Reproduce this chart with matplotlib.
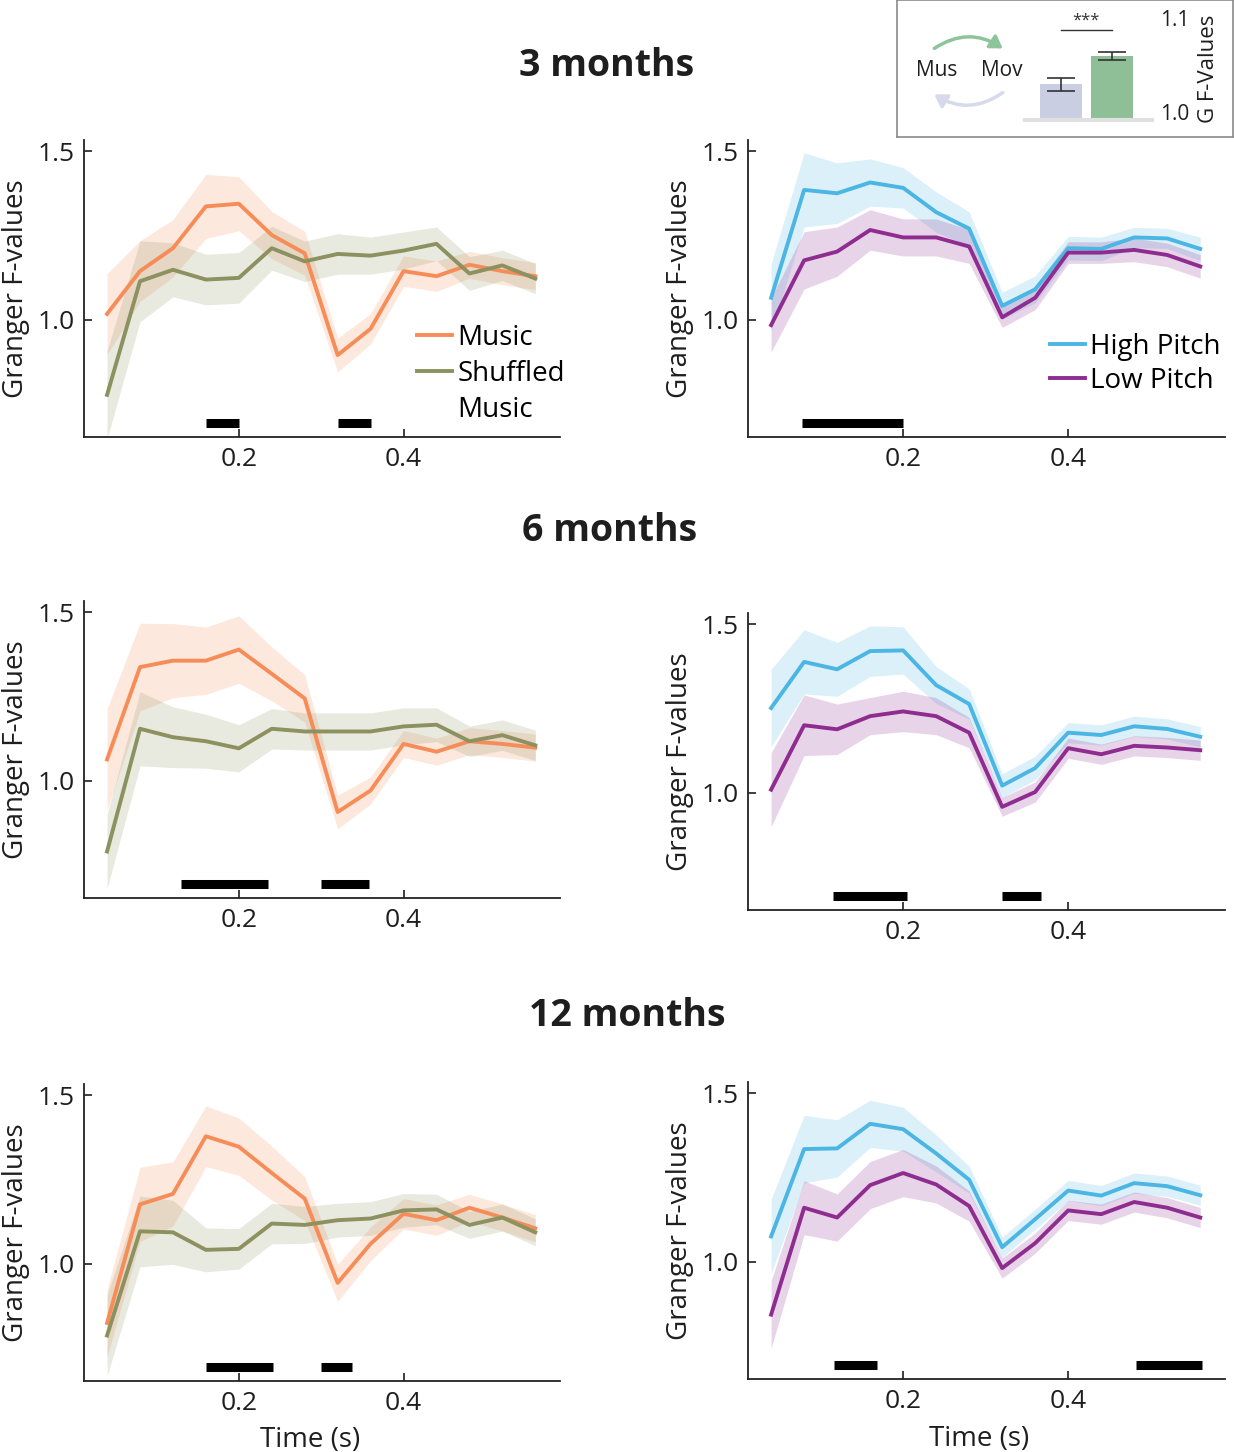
import numpy as np
import matplotlib
matplotlib.use('Agg')
import matplotlib.pyplot as plt
from matplotlib.patches import FancyArrowPatch
from matplotlib.lines import Line2D

plt.rcParams['font.family'] = ['Open Sans', 'DejaVu Sans']

# time points (s)
t = [0.04, 0.08, 0.12, 0.16, 0.20, 0.24, 0.28, 0.32, 0.36, 0.40, 0.44, 0.48, 0.52, 0.56]

# music vs shuffled, mean and band half-width
music_3m = [1.017, 1.144, 1.212, 1.336, 1.344, 1.251, 1.197, 0.895, 0.973, 1.144, 1.129, 1.163, 1.144, 1.129]
music_3m_err = [0.12, 0.09, 0.085, 0.095, 0.08, 0.07, 0.065, 0.05, 0.045, 0.045, 0.045, 0.04, 0.04, 0.04]
shuf_3m = [0.777, 1.114, 1.148, 1.119, 1.124, 1.212, 1.173, 1.195, 1.19, 1.205, 1.225, 1.137, 1.161, 1.122]
shuf_3m_err = [0.13, 0.12, 0.08, 0.075, 0.075, 0.065, 0.06, 0.06, 0.055, 0.055, 0.05, 0.05, 0.045, 0.045]

music_6m = [1.063, 1.337, 1.356, 1.356, 1.389, 1.317, 1.244, 0.907, 0.971, 1.109, 1.086, 1.117, 1.109, 1.098]
music_6m_err = [0.15, 0.13, 0.11, 0.1, 0.1, 0.08, 0.07, 0.05, 0.04, 0.04, 0.04, 0.04, 0.04, 0.04]
shuf_6m = [0.79, 1.154, 1.129, 1.117, 1.096, 1.154, 1.146, 1.146, 1.146, 1.161, 1.166, 1.117, 1.135, 1.105]
shuf_6m_err = [0.11, 0.11, 0.09, 0.08, 0.07, 0.06, 0.055, 0.055, 0.055, 0.055, 0.05, 0.045, 0.045, 0.045]

music_12m = [0.824, 1.176, 1.207, 1.378, 1.347, 1.269, 1.193, 0.943, 1.059, 1.148, 1.129, 1.166, 1.137, 1.105]
music_12m_err = [0.1, 0.11, 0.095, 0.09, 0.085, 0.08, 0.065, 0.055, 0.05, 0.045, 0.045, 0.04, 0.04, 0.04]
shuf_12m = [0.787, 1.096, 1.093, 1.041, 1.044, 1.119, 1.115, 1.129, 1.134, 1.158, 1.161, 1.115, 1.137, 1.093]
shuf_12m_err = [0.12, 0.105, 0.095, 0.065, 0.06, 0.06, 0.055, 0.05, 0.05, 0.05, 0.045, 0.04, 0.04, 0.04]

# high vs low pitch
high_3m = [1.065, 1.385, 1.375, 1.407, 1.391, 1.319, 1.27, 1.041, 1.09, 1.212, 1.21, 1.244, 1.241, 1.21]
high_3m_err = [0.1, 0.11, 0.09, 0.07, 0.06, 0.06, 0.05, 0.04, 0.04, 0.035, 0.035, 0.03, 0.03, 0.035]
low_3m = [0.984, 1.176, 1.202, 1.266, 1.244, 1.244, 1.217, 1.007, 1.065, 1.199, 1.199, 1.207, 1.192, 1.158]
low_3m_err = [0.08, 0.085, 0.073, 0.06, 0.055, 0.055, 0.05, 0.03, 0.035, 0.032, 0.032, 0.035, 0.035, 0.035]

high_6m = [1.251, 1.388, 1.366, 1.42, 1.422, 1.319, 1.263, 1.021, 1.073, 1.178, 1.171, 1.197, 1.189, 1.166]
high_6m_err = [0.115, 0.095, 0.08, 0.075, 0.07, 0.055, 0.045, 0.035, 0.035, 0.03, 0.03, 0.03, 0.03, 0.03]
low_6m = [1.009, 1.2, 1.188, 1.227, 1.241, 1.227, 1.178, 0.958, 1.002, 1.132, 1.114, 1.139, 1.134, 1.126]
low_6m_err = [0.11, 0.09, 0.075, 0.055, 0.06, 0.055, 0.045, 0.028, 0.03, 0.03, 0.03, 0.03, 0.03, 0.03]

high_12m = [1.075, 1.334, 1.336, 1.409, 1.393, 1.321, 1.243, 1.043, 1.126, 1.211, 1.196, 1.233, 1.224, 1.197]
high_12m_err = [0.11, 0.1, 0.085, 0.07, 0.065, 0.055, 0.04, 0.03, 0.03, 0.03, 0.03, 0.03, 0.03, 0.03]
low_12m = [0.843, 1.16, 1.131, 1.227, 1.263, 1.229, 1.165, 0.981, 1.055, 1.152, 1.141, 1.177, 1.16, 1.131]
low_12m_err = [0.1, 0.08, 0.07, 0.07, 0.07, 0.055, 0.045, 0.03, 0.03, 0.03, 0.03, 0.03, 0.03, 0.03]

# significant windows (start, end) in s
sig_music = [[(0.16, 0.20), (0.32, 0.36)],
             [(0.13, 0.236), (0.30, 0.358)],
             [(0.16, 0.242), (0.30, 0.338)]]
sig_pitch = [[(0.077, 0.20)],
             [(0.115, 0.205), (0.32, 0.367)],
             [(0.116, 0.168), (0.482, 0.562)]]

ages = ['3 months', '6 months', '12 months']

# inset: Mus->Mov vs Mov->Mus
inset_vals = [1.035, 1.063]
inset_err = [0.0065, 0.004]

c_music = '#F68D58'
c_shuf = '#8C9160'
c_high = '#4BB5E3'
c_low = '#8E2C90'
txt = '#1E1E1E'

fig = plt.figure(figsize=(12.34, 14.52), dpi=100)

W, H = 1234, 1452
# panel boxes in pixels: left, y of x-axis, right
left_boxes = [(84, 437, 560), (84, 898, 560), (84, 1381, 560)]
right_boxes = [(748, 437, 1225), (748, 910, 1225), (748, 1379, 1225)]
ax_h = 297

def make_ax(box):
    x0, yb, x1 = box
    return fig.add_axes([x0 / W, 1 - yb / H, (x1 - x0) / W, ax_h / H])

def style(ax):
    ax.set_xlim(0.012, 0.59)
    ax.set_ylim(0.652, 1.533)
    ax.set_xticks([0.2, 0.4])
    ax.set_yticks([1.0, 1.5])
    ax.set_xticklabels(['0.2', '0.4'])
    ax.set_yticklabels(['1.0', '1.5'])
    for s in ['top', 'right']:
        ax.spines[s].set_visible(False)
    for s in ['left', 'bottom']:
        ax.spines[s].set_linewidth(1.3)
        ax.spines[s].set_color('#222222')
    ax.tick_params(direction='in', length=6, width=1.2, labelsize=19, colors=txt, pad=7)
    ax.set_ylabel('Granger F-values', fontsize=20, color=txt, labelpad=5)

def draw(ax, m, e, c, label):
    m = np.array(m)
    e = np.array(e)
    ax.fill_between(t, m - e, m + e, color=c, alpha=0.2, linewidth=0)
    ax.plot(t, m, color=c, linewidth=2.8, label=label)

music_sets = [(music_3m, music_3m_err, shuf_3m, shuf_3m_err),
              (music_6m, music_6m_err, shuf_6m, shuf_6m_err),
              (music_12m, music_12m_err, shuf_12m, shuf_12m_err)]
pitch_sets = [(high_3m, high_3m_err, low_3m, low_3m_err),
              (high_6m, high_6m_err, low_6m, low_6m_err),
              (high_12m, high_12m_err, low_12m, low_12m_err)]

leg_kw = dict(frameon=False, fontsize=20, handlelength=1.25, handletextpad=0.2,
              borderpad=0, borderaxespad=0)

for i in range(3):
    ax = make_ax(left_boxes[i])
    mm, me, sm, se = music_sets[i]
    draw(ax, mm, me, c_music, 'Music')
    draw(ax, sm, se, c_shuf, 'Shuffled')
    for a, b in sig_music[i]:
        ax.hlines(0.695, a, b, color='black', linewidth=6.5)
    style(ax)
    if i == 0:
        h, l = ax.get_legend_handles_labels()
        h.append(Line2D([], [], color='none'))
        l.append('Music')
        ax.legend(h, l, loc='upper left', bbox_to_anchor=(0.70, 0.38), labelspacing=0.28, **leg_kw)
    if i == 2:
        ax.set_xlabel('Time (s)', fontsize=20, color=txt, va='top')
        ax.xaxis.set_label_coords(0.475, -0.15)

    ax = make_ax(right_boxes[i])
    hm, he, lm, le = pitch_sets[i]
    draw(ax, hm, he, c_high, 'High Pitch')
    draw(ax, lm, le, c_low, 'Low Pitch')
    for a, b in sig_pitch[i]:
        ax.hlines(0.695, a, b, color='black', linewidth=6.5)
    style(ax)
    if i == 0:
        ax.legend(loc='upper left', bbox_to_anchor=(0.633, 0.35), labelspacing=0.2, **leg_kw)
    if i == 2:
        ax.set_xlabel('Time (s)', fontsize=20, color=txt, va='top')
        ax.xaxis.set_label_coords(0.484, -0.155)

# row titles
fig.text(607 / W, 1 - 66 / H, ages[0], ha='center', va='center', fontsize=27, fontweight='bold', color=txt)
fig.text(610 / W, 1 - 531 / H, ages[1], ha='center', va='center', fontsize=27, fontweight='bold', color=txt)
fig.text(627 / W, 1 - 1016 / H, ages[2], ha='center', va='center', fontsize=27, fontweight='bold', color=txt)

# inset box
box = fig.add_axes([897 / W, 1 - 137 / H, 336 / W, 137 / H])
box.set_xlim(0, 336)
box.set_ylim(137, 0)
box.set_xticks([])
box.set_yticks([])
for s in box.spines.values():
    s.set_color('#8A8A8A')
    s.set_linewidth(1.2)
box.text(40, 71, 'Mus', ha='center', va='center', fontsize=15, color=txt)
box.text(105, 71, 'Mov', ha='center', va='center', fontsize=15, color=txt)
box.add_patch(FancyArrowPatch((35, 50), (108, 50), connectionstyle='arc3,rad=-0.35',
                              arrowstyle='-|>,head_length=7,head_width=4.5', color='#8DC49B', linewidth=2.5))
box.add_patch(FancyArrowPatch((108, 91), (35, 93), connectionstyle='arc3,rad=-0.35',
                              arrowstyle='-|>,head_length=7,head_width=4.5', color='#D6DAEC', linewidth=2.5))

bx = fig.add_axes([1025 / W, 1 - 120 / H, 127 / W, 102 / H])
bx.bar([0, 1], np.array(inset_vals) - 1.0, bottom=1.0, width=0.82,
       color=['#C9CEE2', '#8EBF97'])
bx.errorbar([0, 1], inset_vals, yerr=inset_err, fmt='none', ecolor='#333333', elinewidth=1.2,
            capsize=10, capthick=1.2)
bx.plot([0, 1], [1.088, 1.088], color='#333333', linewidth=1)
bx.text(0.5, 1.097, '***', ha='center', va='center', fontsize=12, color='#333333')
bx.set_xlim(-0.7, 1.79)
bx.set_ylim(1.0, 1.1)
bx.set_xticks([])
bx.yaxis.tick_right()
bx.set_yticks([1.0, 1.1])
bx.set_yticklabels(['1.0', '1.1'])
bx.tick_params(axis='y', length=0, labelsize=15, colors=txt, pad=6)
bx.get_yticklabels()[0].set_va('baseline')
bx.yaxis.set_label_position('right')
bx.set_ylabel('G F-Values', fontsize=16, color=txt, rotation=90, labelpad=6)
for s in ['top', 'right', 'left']:
    bx.spines[s].set_visible(False)
bx.spines['bottom'].set_color('#E0E0E0')
bx.spines['bottom'].set_linewidth(3)
bx.patch.set_alpha(0)

fig.savefig('out.png', dpi=100)
